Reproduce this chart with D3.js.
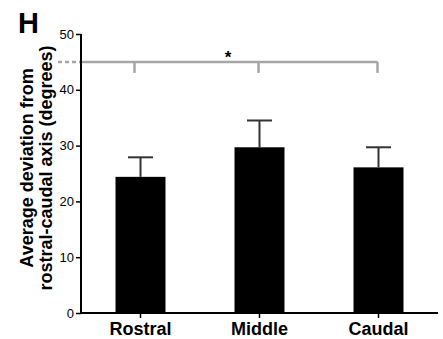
<!DOCTYPE html>
<html>
<head>
<meta charset="utf-8">
<script src="https://cdn.jsdelivr.net/npm/d3@7"></script>
<style>
  body { margin: 0; background: #fff; }
  text { font-family: "Liberation Sans", Arial, sans-serif; }
</style>
</head>
<body>
<svg width="443" height="339"></svg>
<script>
// data
var regions = ["Rostral", "Middle", "Caudal"];
var meanDeviation = [24.4, 29.7, 26.1];
var semDeviation = [3.5, 4.8, 3.6];
var yTicks = [0, 10, 20, 30, 40, 50];
var bracketLevel = 45;

var svg = d3.select("svg"),
    margin = { top: 34, right: 5, bottom: 26, left: 81 },
    width = +svg.attr("width") - margin.left - margin.right,
    height = +svg.attr("height") - margin.top - margin.bottom;

var x = d3.scaleBand().domain(regions).range([0, 357]).paddingInner(0.58).paddingOuter(0.29),
    y = d3.scaleLinear().domain([0, 50]).range([height, 0]);

var g = svg.append("g")
    .attr("transform", "translate(" + margin.left + "," + margin.top + ")");

// bars
g.selectAll(".bar")
    .data(regions)
    .enter().append("rect")
    .attr("class", "bar")
    .attr("x", function (d) { return x(d); })
    .attr("y", function (d, i) { return y(meanDeviation[i]); })
    .attr("width", x.bandwidth())
    .attr("height", function (d, i) { return height - y(meanDeviation[i]); })
    .attr("fill", "#000");

// error bars (upper only)
var eb = g.selectAll(".err").data(regions).enter().append("g").attr("class", "err")
    .attr("stroke", "#333").attr("stroke-width", 2);
eb.append("line")
    .attr("x1", function (d) { return x(d) + x.bandwidth() / 2; })
    .attr("x2", function (d) { return x(d) + x.bandwidth() / 2; })
    .attr("y1", function (d, i) { return y(meanDeviation[i]); })
    .attr("y2", function (d, i) { return y(meanDeviation[i] + semDeviation[i]); });
eb.append("line")
    .attr("x1", function (d) { return x(d) + x.bandwidth() / 2 - 12.5; })
    .attr("x2", function (d) { return x(d) + x.bandwidth() / 2 + 12.5; })
    .attr("y1", function (d, i) { return y(meanDeviation[i] + semDeviation[i]); })
    .attr("y2", function (d, i) { return y(meanDeviation[i] + semDeviation[i]); });

// significance bracket
var by = y(bracketLevel);
var lastX = x(regions[2]) + x.bandwidth() / 2 - 1;
g.append("line")
    .attr("x1", -23).attr("x2", 0).attr("y1", by).attr("y2", by)
    .attr("stroke", "#a6a6a6").attr("stroke-width", 2.5).attr("stroke-dasharray", "4,3");
g.append("line")
    .attr("x1", 0).attr("x2", lastX).attr("y1", by).attr("y2", by)
    .attr("stroke", "#a6a6a6").attr("stroke-width", 2.5);
g.selectAll(".drop").data(regions).enter().append("line")
    .attr("class", "drop")
    .attr("x1", function (d, i) { return x(d) + x.bandwidth() / 2 - (i === 0 ? 6 : 1); })
    .attr("x2", function (d, i) { return x(d) + x.bandwidth() / 2 - (i === 0 ? 6 : 1); })
    .attr("y1", by).attr("y2", by + 11)
    .attr("stroke", "#a6a6a6").attr("stroke-width", 2.5);
g.append("text")
    .attr("x", 147).attr("y", by + 1)
    .attr("text-anchor", "middle")
    .style("font-size", "17px").style("font-weight", "bold")
    .text("*");

// y axis
var yAxis = g.append("g")
    .call(d3.axisLeft(y).tickValues(yTicks).tickSize(5).tickPadding(2));
yAxis.select(".domain").attr("stroke-width", 2).attr("d", "M0," + (height + 1) + "V0");
yAxis.selectAll(".tick line").attr("stroke-width", 1.5);
yAxis.selectAll("text").style("font-size", "13px").attr("fill", "#000");

// x axis
var xAxis = g.append("g")
    .attr("transform", "translate(0," + height + ")")
    .call(d3.axisBottom(x).tickSize(5).tickPadding(4));
xAxis.select(".domain").attr("stroke-width", 2).attr("d", "M0,0H357");
xAxis.selectAll(".tick line").attr("stroke-width", 1.5);
xAxis.selectAll("text").style("font-size", "18px").style("font-weight", "bold").attr("fill", "#000");

// y axis title
var yt = svg.append("text")
    .attr("transform", "translate(33,168) rotate(-90)")
    .attr("text-anchor", "middle")
    .style("font-size", "18px").style("font-weight", "bold");
yt.append("tspan").attr("x", 0).attr("dy", 0).text("Average deviation from");
yt.append("tspan").attr("x", 0).attr("dy", 18.5).text("rostral-caudal axis (degrees)");

// panel letter
svg.append("text")
    .attr("x", 18).attr("y", 33)
    .style("font-size", "29px").style("font-weight", "bold")
    .text("H");
</script>
</body>
</html>
